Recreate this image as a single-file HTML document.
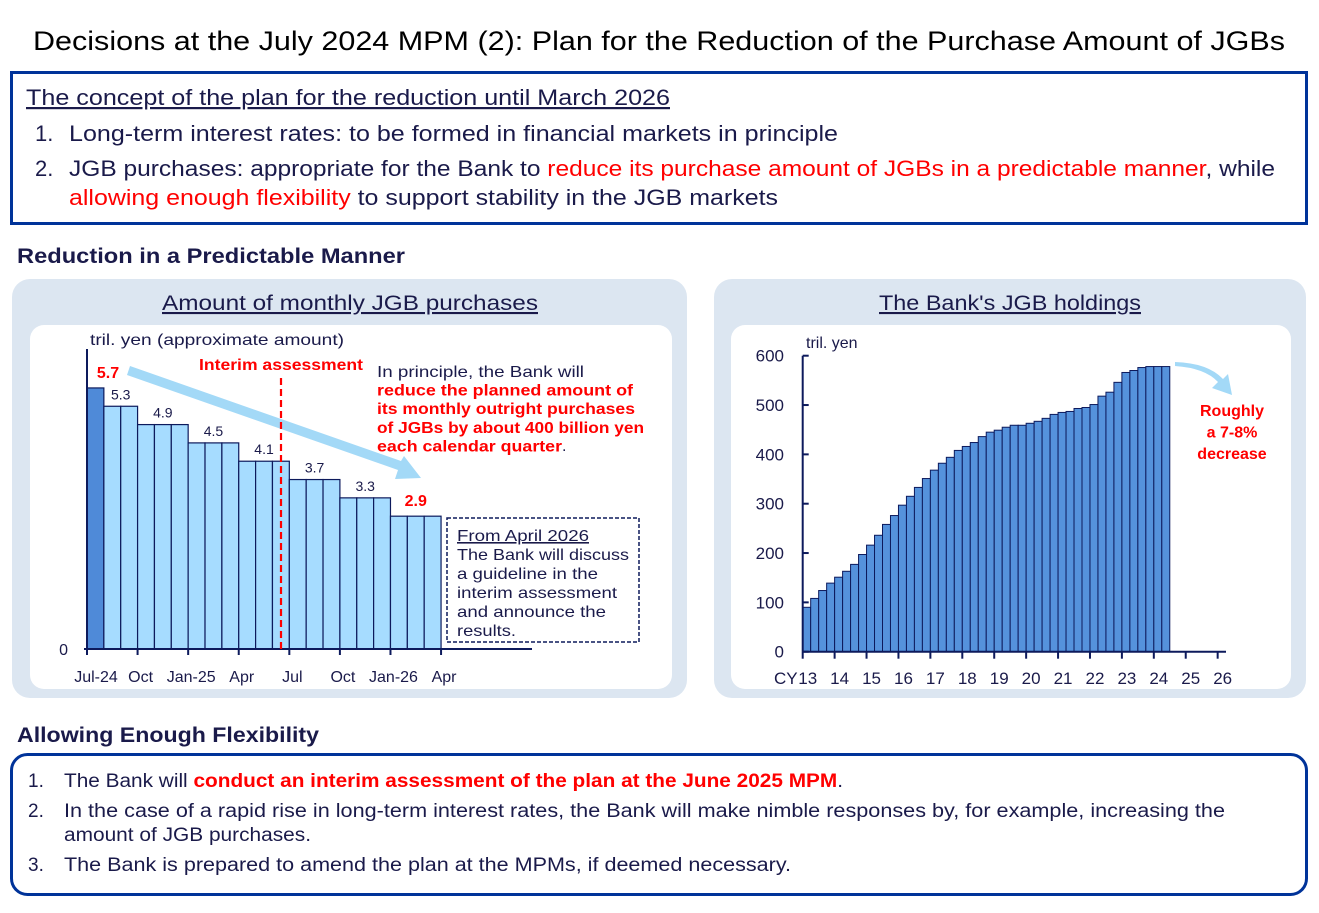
<!DOCTYPE html>
<html><head><meta charset="utf-8"><style>
html,body{margin:0;padding:0;background:#fff;}
svg{display:block;font-family:"Liberation Sans",sans-serif;}
</style></head><body>
<svg id="page" width="1319" height="913" viewBox="0 0 1319 913">
<rect width="1319" height="913" fill="#fff"/>
<text x="659" y="50" text-anchor="middle" font-size="27" fill="#000" textLength="1252" lengthAdjust="spacingAndGlyphs">Decisions at the July 2024 MPM (2): Plan for the Reduction of the Purchase Amount of JGBs</text>

<g>
<rect x="11.5" y="72.5" width="1295" height="151" fill="#fff" stroke="#003399" stroke-width="3"/>
<text x="26" y="105" font-size="22" fill="#1a1a4a" text-decoration="underline" textLength="644" lengthAdjust="spacingAndGlyphs">The concept of the plan for the reduction until March 2026</text>
<text x="35" y="141" font-size="22" fill="#1a1a4a">1.</text>
<text x="69" y="141" font-size="22" fill="#1a1a4a" textLength="769" lengthAdjust="spacingAndGlyphs">Long-term interest rates: to be formed in financial markets in principle</text>
<text x="35" y="176" font-size="22" fill="#1a1a4a">2.</text>
<text x="69" y="176" font-size="22" fill="#1a1a4a" textLength="1206" lengthAdjust="spacingAndGlyphs">JGB purchases: appropriate for the Bank to <tspan fill="#ff0000">reduce its purchase amount of JGBs in a predictable manner</tspan>, while</text>
<text x="69" y="205" font-size="22" fill="#1a1a4a" textLength="709" lengthAdjust="spacingAndGlyphs"><tspan fill="#ff0000">allowing enough flexibility</tspan> to support stability in the JGB markets</text>
</g>

<text x="17" y="263" font-size="21" font-weight="bold" fill="#1a1a4a" textLength="388" lengthAdjust="spacingAndGlyphs">Reduction in a Predictable Manner</text>

<rect x="12" y="279" width="675" height="419" rx="18" fill="#dce6f1"/>
<rect x="30" y="325" width="642" height="364" rx="14" fill="#fff"/>
<text x="350" y="310" text-anchor="middle" font-size="21" fill="#1a1a4a" text-decoration="underline" textLength="376" lengthAdjust="spacingAndGlyphs">Amount of monthly JGB purchases</text>

<rect x="714" y="279" width="592" height="419" rx="18" fill="#dce6f1"/>
<rect x="731" y="325" width="560" height="364" rx="14" fill="#fff"/>
<text x="1010" y="310" text-anchor="middle" font-size="21" fill="#1a1a4a" text-decoration="underline" textLength="262" lengthAdjust="spacingAndGlyphs">The Bank's JGB holdings</text>

<g id="leftChart"></g>
<g id="rightChart"></g>

<text x="17" y="742" font-size="21" font-weight="bold" fill="#1a1a4a" textLength="302" lengthAdjust="spacingAndGlyphs">Allowing Enough Flexibility</text>
<g>
<rect x="11.5" y="754.5" width="1295" height="140" rx="16" fill="#fff" stroke="#003399" stroke-width="3"/>
<text x="28" y="787" font-size="19" fill="#1a1a4a">1.</text>
<text x="64" y="787" font-size="19" fill="#1a1a4a" textLength="779" lengthAdjust="spacingAndGlyphs">The Bank will <tspan fill="#ff0000" font-weight="bold">conduct an interim assessment of the plan at the June 2025 MPM</tspan>.</text>
<text x="28" y="817" font-size="19" fill="#1a1a4a">2.</text>
<text x="64" y="817" font-size="19" fill="#1a1a4a" textLength="1161" lengthAdjust="spacingAndGlyphs">In the case of a rapid rise in long-term interest rates, the Bank will make nimble responses by, for example, increasing the</text>
<text x="64" y="841" font-size="19" fill="#1a1a4a" textLength="247" lengthAdjust="spacingAndGlyphs">amount of JGB purchases.</text>
<text x="28" y="871" font-size="19" fill="#1a1a4a">3.</text>
<text x="64" y="871" font-size="19" fill="#1a1a4a" textLength="727" lengthAdjust="spacingAndGlyphs">The Bank is prepared to amend the plan at the MPMs, if deemed necessary.</text>
</g>
</svg>
<script>
// ---- Left chart data ----
const monthlyValues = [5.7,5.3,5.3,4.9,4.9,4.9,4.5,4.5,4.5,4.1,4.1,4.1,3.7,3.7,3.7,3.3,3.3,3.3,2.9,2.9,2.9];
const quarterLabels = ["5.7","5.3","4.9","4.5","4.1","3.7","3.3","2.9"];
const quarterStartIdx = [0,1,3,6,9,12,15,18];
const quarterValues = [5.7,5.3,4.9,4.5,4.1,3.7,3.3,2.9];
const monthTickLabels = ["Jul-24","Oct","Jan-25","Apr","Jul","Oct","Jan-26","Apr"];
// ---- Right chart data ----
const holdingsValues = [90,108,124,139,151,163,177,197,216,236,258,276,297,315,333,351,368,382,394,408,416,424,436,445,449,455,459,459,463,467,473,481,485,487,493,495,501,518,526,546,566,570,576,578,578,578];
const yearLabels = ["13","14","15","16","17","18","19","20","21","22","23","24","25","26"];
const holdingsTicks = [0,100,200,300,400,500,600];

const NS = "http://www.w3.org/2000/svg";
function mk(parent, tag, attrs, txt){const e=document.createElementNS(NS,tag);for(const k in attrs)e.setAttribute(k,attrs[k]);if(txt!==undefined)e.textContent=txt;parent.appendChild(e);return e;}
const navy="#1a1a4a", axisC="#0d1a5c";

// Left chart
(function(){
 const g=document.getElementById('leftChart');
 const x0=87, bw=16.86, y0=649, k=45.8;
 const X=i=>x0+i*bw, Y=v=>y0-v*k;
 // arrow (behind labels)
 const ar=mk(g,'path',{d:'M127,375 L398,470 L395,479 L421,478 L404,456 L401,461 L130,366 Z',fill:'#a3d9f7'});
 
 monthlyValues.forEach((v,i)=>{
  const r=mk(g,'rect',{x:X(i),y:Y(v),width:bw,height:v*k,fill:i===0?'#4f8ad8':'#a6dcff',stroke:'#0d1a5c','stroke-width':1.2});
  
  
 });
 const ax=mk(g,'line',{x1:x0,y1:349,x2:x0,y2:y0,stroke:axisC,'stroke-width':2});
 
 const bx=mk(g,'line',{x1:x0-3,y1:y0,x2:532,y2:y0,stroke:axisC,'stroke-width':2});
 
 monthTickLabels.forEach((l,q)=>{
  const xt=X(q*3);
  mk(g,'line',{x1:xt,y1:y0,x2:xt,y2:y0+6,stroke:axisC,'stroke-width':2});
  const t=mk(g,'text',{x:xt+(q===0?9:3),y:682,'text-anchor':'middle','font-size':16,fill:navy},l);
  
 });
 const z=mk(g,'text',{x:68,y:655,'text-anchor':'end','font-size':16,fill:navy},'0');
 
 const u=mk(g,'text',{x:90,y:345,'font-size':16,fill:navy,textLength:254,lengthAdjust:'spacingAndGlyphs'},'tril. yen (approximate amount)');
 
 quarterLabels.forEach((l,q)=>{
  const s=quarterStartIdx[q], n=(q===0?1:(q===1?2:3));
  const red=(q===0||q===7);
  const cx = q===0 ? X(0)+21 : X(s)+n*bw/2;
  const t=mk(g,'text',{x:cx,y:Y(quarterValues[q])-(red?10:7),'text-anchor':'middle','font-size':red?16:14,'font-weight':red?'bold':'normal',fill:red?'#ff0000':navy},l);
  
 });
 const dl=mk(g,'line',{x1:281,y1:378,x2:281,y2:649,stroke:'#ff0000','stroke-width':2.2,'stroke-dasharray':'7,4'});
 
 const ia=mk(g,'text',{x:199,y:370,'font-size':16,'font-weight':'bold',fill:'#ff0000',textLength:164,lengthAdjust:'spacingAndGlyphs'},'Interim assessment');
 
 const lines=[['In principle, the Bank will',navy,false,207],['reduce the planned amount of','#ff0000',true,256],['its monthly outright purchases','#ff0000',true,258],['of JGBs by about 400 billion yen','#ff0000',true,267],['each calendar quarter','#ff0000',true,185]];
 lines.forEach((L,i)=>{
  const t=mk(g,'text',{x:377,y:377+i*18.6,'font-size':16,'font-weight':L[2]?'bold':'normal',fill:L[1],textLength:L[3],lengthAdjust:'spacingAndGlyphs'},L[0]);
  
 });
 mk(g,'text',{x:562,y:451,'font-size':16,fill:navy},'.');
 const bxr=mk(g,'rect',{x:447,y:518,width:192,height:124,fill:'#fff',stroke:'#0d1a5c','stroke-width':1.5,'stroke-dasharray':'4,2'});
 
 const bl=[['From April 2026',132],['The Bank will discuss',172],['a guideline in the',141],['interim assessment',160],['and announce the',149],['results.',59]];
 bl.forEach((L,i)=>{
  const t=mk(g,'text',{x:457,y:541+i*19,'font-size':16,fill:navy,textLength:L[1],lengthAdjust:'spacingAndGlyphs'},L[0]);
  if(i===0)t.setAttribute('text-decoration','underline');
  
 });
})();

// Right chart
(function(){
 const g=document.getElementById('rightChart');
 const x0=802.7, qw=7.98, y0=651.7, k=296/600;
 const X=i=>x0+i*qw, Y=v=>y0-v*k;
 holdingsValues.forEach((v,i)=>{
  const r=mk(g,'rect',{x:X(i),y:Y(v),width:qw,height:v*k,fill:'#5592dc',stroke:'#0d1a5c','stroke-width':1});
  
  
 });
 const ya=mk(g,'line',{x1:x0,y1:Y(600),x2:x0,y2:y0,stroke:axisC,'stroke-width':2});
 
 const xa=mk(g,'line',{x1:x0,y1:y0,x2:1226,y2:y0,stroke:axisC,'stroke-width':2});
 
 holdingsTicks.forEach(v=>{
  mk(g,'line',{x1:x0,y1:Y(v),x2:x0+6,y2:Y(v),stroke:axisC,'stroke-width':2});
  const t=mk(g,'text',{x:784,y:Y(v)+6,'text-anchor':'end','font-size':17,fill:navy},String(v));
  
 });
 yearLabels.forEach((l,i)=>{
  const xt=x0+i*qw*4;
  mk(g,'line',{x1:xt,y1:y0,x2:xt,y2:y0+7,stroke:axisC,'stroke-width':2});
  const t=mk(g,'text',{x:xt+5,y:684,'text-anchor':'middle','font-size':17,fill:navy},l);
  
 });
 const cy=mk(g,'text',{x:774,y:684,'font-size':17,fill:navy},'CY');
 
 const un=mk(g,'text',{x:806,y:348,'font-size':16,fill:navy},'tril. yen');
 
 const ar=mk(g,'path',{d:'M1175,366 Q1205,368 1218,382 L1212,388 L1232,395 L1228,374 L1223,379 Q1208,363 1175,362 Z',fill:'#a3d9f7'});
 
 ['Roughly','a 7-8%','decrease'].forEach((l,i)=>{
  const t=mk(g,'text',{x:1232,y:416+i*21.5,'text-anchor':'middle','font-size':16,'font-weight':'bold',fill:'#ff0000'},l);
  
 });
})();
</script>
</body></html>
